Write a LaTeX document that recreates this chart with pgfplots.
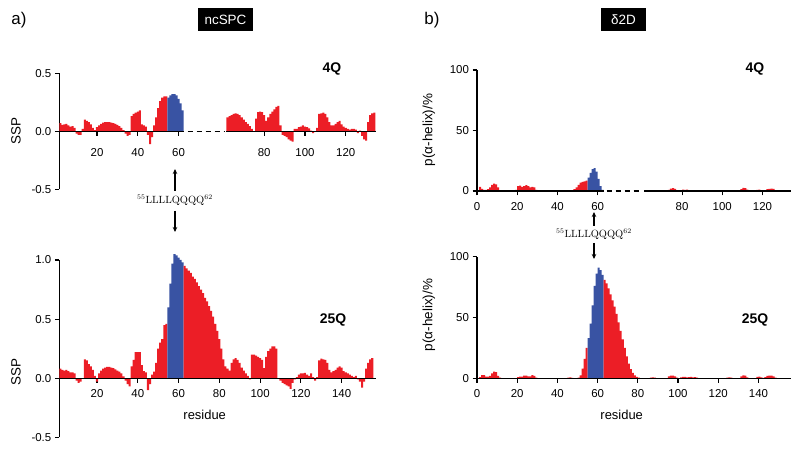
\documentclass[border=0pt]{standalone}
\usepackage{pgfplots}
\pgfplotsset{compat=1.18}
\usepackage{pgfplotstable}
\usetikzlibrary{arrows.meta}
\usepackage{fontspec}
\setsansfont{Liberation Sans}
\renewcommand{\familydefault}{\sfdefault}
\definecolor{redbar}{RGB}{236,30,38}
\definecolor{bluebar}{RGB}{57,83,163}

% ---------------- panel a, 4Q ----------------
\pgfplotstableread{
r v
2 .07
3 .055
4 .06
5 .065
6 .05
7 .04
8 .045
9 .03
10 -.02
11 -.03
12 -.03
13 .02
14 .10
15 .09
16 .08
17 .06
18 .03
19 .01
20 .035
21 .05
22 .065
23 .075
24 .08
25 .08
26 .08
27 .075
28 .07
29 .065
30 .055
31 .045
32 .03
33 .01
34 -.02
35 -.04
36 -.03
37 .13
38 .15
39 .16
40 .17
41 .18
42 .06
43 .05
44 .04
45 -.03
46 -.11
47 -.05
48 .05
49 .12
50 .20
51 .26
52 .29
53 .30
54 .30
55 .30
}\AfourRa
\pgfplotstableread{
r v
55 .29
56 .31
57 .32
58 .32
59 .31
60 .28
61 .24
62 .18
63 .18
}\AfourB
\pgfplotstableread{
r v
84 .12
85 .13
86 .14
87 .15
88 .155
89 .15
90 .14
91 .12
92 .10
93 .08
94 .065
95 .045
96 .02
97 0
98 .11
99 .165
100 .17
101 .165
102 .14
103 .09
104 .12
105 .15
106 .17
107 .19
108 .21
109 .22
110 .05
111 -.03
112 -.04
113 -.05
114 -.07
115 -.08
116 -.09
117 .02
118 .02
119 .035
120 .04
121 .05
122 .04
123 .035
124 .025
125 .005
126 -.015
127 0
128 .03
129 .15
130 .155
131 .16
132 .15
133 .12
134 .08
135 .05
136 .05
137 .065
138 .08
139 .09
140 .06
141 .04
142 .03
143 .02
144 .015
145 .02
146 .02
147 .015
148 -.015
149 .005
150 -.04
151 -.07
152 -.08
153 .08
154 .14
155 .155
156 .16
157 .16
}\AfourRb

% ---------------- panel a, 25Q ----------------
\pgfplotstableread{
r v
2 .08
3 .07
4 .065
5 .07
6 .06
7 .05
8 .05
9 .04
10 -.02
11 -.04
12 -.03
13 0
14 .16
15 .15
16 .12
17 .10
18 .07
19 .02
20 -.03
21 .04
22 .065
23 .08
24 .09
25 .095
26 .095
27 .09
28 .085
29 .075
30 .065
31 .055
32 .04
33 .015
34 -.02
35 -.05
36 -.07
37 .10
38 .155
39 .22
40 .22
41 .22
42 .11
43 .06
44 .05
45 -.10
46 -.05
47 .03
48 .055
49 .13
50 .25
51 .30
52 .33
53 .45
54 .46
55 .46
}\AtwfRa
\pgfplotstableread{
r v
55 .60
56 .80
57 .97
58 1.05
59 1.04
60 1.02
61 1.00
62 .98
63 .98
}\AtwfB
\pgfplotstableread{
r v
63 .95
64 .93
65 .91
66 .89
67 .86
68 .84
69 .81
70 .78
71 .75
72 .72
73 .68
74 .65
75 .61
76 .57
77 .52
78 .46
79 .40
80 .33
81 .25
82 .16
83 .10
84 .08
85 .065
86 .13
87 .16
88 .17
89 .155
90 .13
91 .09
92 .065
93 .04
94 .02
95 -.01
96 .20
97 .20
98 .19
99 .18
100 .17
101 .155
102 .085
103 .18
104 .23
105 .25
106 .27
107 .27
108 .25
109 0
110 -.02
111 -.04
112 -.05
113 -.06
114 -.07
115 -.09
116 -.04
117 -.01
118 .01
119 .03
120 .04
121 .04
122 .045
123 .03
124 .02
125 .04
126 .01
127 -.02
128 .01
129 .15
130 .165
131 .16
132 .155
133 .13
134 .07
135 .05
136 .06
137 .07
138 .09
139 .10
140 .09
141 .06
142 .05
143 .04
144 .03
145 .02
146 .01
147 .02
148 -.01
149 -.03
150 -.08
151 -.03
152 .08
153 .13
154 .16
155 .17
156 .17
}\AtwfRb

% ---------------- panel b, 4Q ----------------
\pgfplotstableread{
r v
1 3.5
2 1.8
3 1
4 1
5 1.5
6 3
7 5
8 6
9 5.5
10 3
11 0.5
12 0
13 0
14 0
15 0
16 0
17 0
18 0
19 1
20 4
21 4.5
22 3.5
23 4
24 4.8
25 4
26 3
27 3.5
28 3
29 1
30 0.3
31 0
32 0
33 0
34 0
35 0
36 0
37 0
38 0
39 0
40 0
41 0
42 0
43 0
44 0
45 0.3
46 0.8
47 0.8
48 1.5
49 3
50 5
51 7
52 7.5
53 8
54 8.5
55 8.5
}\BfourRa
\pgfplotstableread{
r v
55 11
56 15
57 18
58 19
59 16
60 10
61 4
62 1
63 1
}\BfourB
\pgfplotstableread{
r v
84 0.5
85 0.8
86 0.5
87 0.8
88 0.6
89 0.3
90 0
91 0
92 0
93 0
94 0
95 1
96 2
97 2.3
98 1.8
99 0.8
100 0.3
101 0.8
102 1.2
103 1.0
104 1.2
105 0.6
106 0.3
107 0.8
108 0.8
109 0.6
110 0.8
111 0.3
112 0
113 0
114 0
115 0
116 0
117 0
118 0
119 0
120 0
121 0
122 0
123 0
124 0.5
125 0.8
126 0.6
127 0
128 0
129 0
130 0
131 1.5
132 2.5
133 2.3
134 1.2
135 0.3
136 0
137 0
138 0
139 1.0
140 1.2
141 0.8
142 0.3
143 0.5
144 1.5
145 1.8
146 2
147 1.8
148 0.8
149 0.8
}\BfourRb

% ---------------- panel b, 25Q ----------------
\pgfplotstableread{
r v
1 1
2 2.7
3 2.7
4 1.4
5 1.4
6 2
7 4
8 5.5
9 5
10 2
11 0.5
12 0
13 0
14 0
15 0
16 0
17 0
18 0
19 0
20 1
21 1.4
22 1.4
23 2.2
24 2.2
25 1.5
26 1.5
27 2.7
28 2
29 0.5
30 0
31 0
32 0
33 0
34 0
35 0
36 0
37 0
38 0
39 0
40 0
41 0
42 0
43 0
44 0
45 0.6
46 0.8
47 0.3
48 0
49 0
50 0.5
51 2.5
52 8
53 16
54 25
55 25
}\BtwfRa
\pgfplotstableread{
r v
55 33
56 45
57 60
58 76
59 86
60 91
61 89
62 85
63 85
}\BtwfB
\pgfplotstableread{
r v
63 81
64 78
65 74
66 69
67 64
68 59
69 53
70 46
71 39
72 32
73 25
74 18
75 12
76 7.5
77 4.5
78 2.5
79 1.2
80 0.5
81 0
82 0
83 0
84 0
85 0
86 0.5
87 0.8
88 0.5
89 0
90 0
91 0
92 0
93 0
94 0
95 1.5
96 2.2
97 2.2
98 1.5
99 0.5
100 0
101 0.8
102 1.1
103 1.1
104 0.8
105 1.0
106 1.1
107 0.8
108 1.0
109 0.5
110 0
111 0
112 0
113 0
114 0
115 0
116 0
117 0
118 0
119 0
120 0
121 0
122 0
123 0
124 0.5
125 0.8
126 0.5
127 0
128 0
129 0
130 0
131 1.5
132 2.5
133 2.2
134 0.8
135 0
136 0
137 0
138 0
139 1.2
140 1.4
141 0.8
142 0.3
143 1.0
144 2.0
145 2.2
146 2.2
147 1.5
148 0.5
149 0.5
}\BtwfRb

\pgfplotsset{
  panel/.style={
    scale only axis, anchor=south west, clip=false,
    axis y line=left, axis x line=middle,
    x axis line style={draw=none},
    y axis line style={-, line width=1.2bp},
    every tick/.style={black, line width=1.1bp},
    xtick align=outside, ytick align=outside,
    major tick length=4.5bp,
    hide obscured x ticks=false, hide obscured y ticks=false,
    tick label style={font=\fontsize{11.5}{13}\selectfont},
    /pgf/number format/assume math mode=true,
    xticklabel style={yshift=-3bp},
  },
  redfill/.style={const plot, fill=redbar, draw=none, forget plot},
  bluefill/.style={const plot, fill=bluebar, draw=none, forget plot},
  zline/.style={black, line width=1.2bp, forget plot},
}

\begin{document}
\begin{tikzpicture}
\path[use as bounding box] (0bp,0bp) rectangle (800bp,458bp);

% ===== a) 4Q =====
\begin{axis}[panel, at={(59.3bp,268.7bp)}, width=316.4bp, height=116bp,
  xmin=1.5, xmax=156.7, ymin=-0.5, ymax=0.5,
  xtick={20,40,60,102,122,142}, xticklabels={20,40,60,80,100,120},
  ytick={-0.5,0,0.5}, yticklabels={-0.5,0.0,0.5},
  xticklabel style={yshift=-6bp}]
\addplot[redfill] table[x expr=\thisrow{r}-0.5, y=v]{\AfourRa} \closedcycle;
\addplot[bluefill] table[x expr=\thisrow{r}-0.5, y=v]{\AfourB} \closedcycle;
\addplot[redfill] table[x expr=\thisrow{r}-0.5, y=v]{\AfourRb} \closedcycle;
\addplot[zline] coordinates {(1.5,0) (62.5,0)};
\addplot[zline, dash pattern=on 5bp off 4bp] coordinates {(64.5,0) (83,0)};
\addplot[zline] coordinates {(83.5,0) (156.7,0)};
\end{axis}

% ===== a) 25Q =====
\begin{axis}[panel, at={(59.3bp,20.7bp)}, width=316.4bp, height=177.3bp,
  xmin=1.5, xmax=156.7, ymin=-0.5, ymax=1.0,
  xtick={20,40,...,140},
  ytick={-0.5,0,0.5,1.0}, yticklabels={-0.5,0.0,0.5,1.0}]
\addplot[redfill] table[x expr=\thisrow{r}-0.5, y=v]{\AtwfRa} \closedcycle;
\addplot[bluefill] table[x expr=\thisrow{r}-0.5, y=v]{\AtwfB} \closedcycle;
\addplot[redfill] table[x expr=\thisrow{r}-0.5, y=v]{\AtwfRb} \closedcycle;
\addplot[zline] coordinates {(1.5,0) (156.7,0)};
\end{axis}

% ===== b) 4Q =====
\begin{axis}[panel, at={(477bp,267bp)}, width=314bp, height=121bp,
  xmin=0, xmax=156.2, ymin=0, ymax=100,
  xtick={0,20,40,60,102,122,142}, xticklabels={0,20,40,60,80,100,120},
  ytick={0,50,100}]
\addplot[redfill] table[x=r, y=v]{\BfourRa} \closedcycle;
\addplot[bluefill] table[x=r, y=v]{\BfourB} \closedcycle;
\addplot[redfill] table[x=r, y=v]{\BfourRb} \closedcycle;
\addplot[zline] coordinates {(0,0) (63,0)};
\addplot[zline, dash pattern=on 5bp off 4bp] coordinates {(64.5,0) (82,0)};
\addplot[zline] coordinates {(83.2,0) (156.2,0)};
\end{axis}

% ===== b) 25Q =====
\begin{axis}[panel, at={(477bp,79.7bp)}, width=314bp, height=121.6bp,
  xmin=0, xmax=156.2, ymin=0, ymax=100,
  xtick={0,20,...,140},
  ytick={0,50,100}]
\addplot[redfill] table[x=r, y=v]{\BtwfRa} \closedcycle;
\addplot[bluefill] table[x=r, y=v]{\BtwfB} \closedcycle;
\addplot[redfill] table[x=r, y=v]{\BtwfRb} \closedcycle;
\addplot[zline] coordinates {(0,0) (156.2,0)};
\end{axis}

% ===== labels =====
\begin{scope}[x=1bp, y=1bp, every node/.style={inner sep=0pt}]
\node[font=\fontsize{17}{20}\selectfont] at (19,438) {a)};
\node[font=\fontsize{17}{20}\selectfont] at (432,438) {b)};
\node[fill=black, text=white, minimum width=55bp, minimum height=23bp,
      font=\fontsize{13.5}{15}\selectfont] at (225.5,438) {ncSPC};
\node[fill=black, text=white, minimum width=45bp, minimum height=23bp,
      font=\fontsize{13.5}{15}\selectfont] at (623.4,438) {δ2D};

\node[rotate=90, font=\fontsize{13.5}{16}\selectfont] at (16,327) {SSP};
\node[rotate=90, font=\fontsize{13.5}{16}\selectfont] at (16,86) {SSP};
\node[rotate=90, font=\fontsize{13.5}{16}\selectfont] at (429,328) {p(α-helix)/\%};
\node[rotate=90, font=\fontsize{13.5}{16}\selectfont] at (429,143) {p(α-helix)/\%};
\node[font=\fontsize{13}{16}\selectfont] at (204.7,43) {residue};
\node[font=\fontsize{13}{16}\selectfont] at (621.7,43) {residue};

\node[font=\fontsize{14}{16}\selectfont\bfseries] at (332,389) {4Q};
\node[font=\fontsize{14}{16}\selectfont\bfseries] at (333,138) {25Q};
\node[font=\fontsize{14}{16}\selectfont\bfseries] at (755,389) {4Q};
\node[font=\fontsize{14}{16}\selectfont\bfseries] at (755,138) {25Q};

\node[font=\rmfamily\fontsize{10.5}{12}\selectfont] at (175,257.3) {$^{55}$LLLLQQQQ$^{62}$};
\draw[-{Stealth[length=5bp,width=4.5bp]}, line width=1.1bp] (175,267) -- (175,289);
\draw[-{Stealth[length=5bp,width=4.5bp]}, line width=1.1bp] (175,247) -- (175,226);
\node[font=\rmfamily\fontsize{10.5}{12}\selectfont] at (594,224) {$^{55}$LLLLQQQQ$^{62}$};
\draw[-{Stealth[length=5bp,width=4.5bp]}, line width=1.1bp] (594,232) -- (594,246);
\draw[-{Stealth[length=5bp,width=4.5bp]}, line width=1.1bp] (594,215) -- (594,199);
\end{scope}
\end{tikzpicture}
\end{document}
